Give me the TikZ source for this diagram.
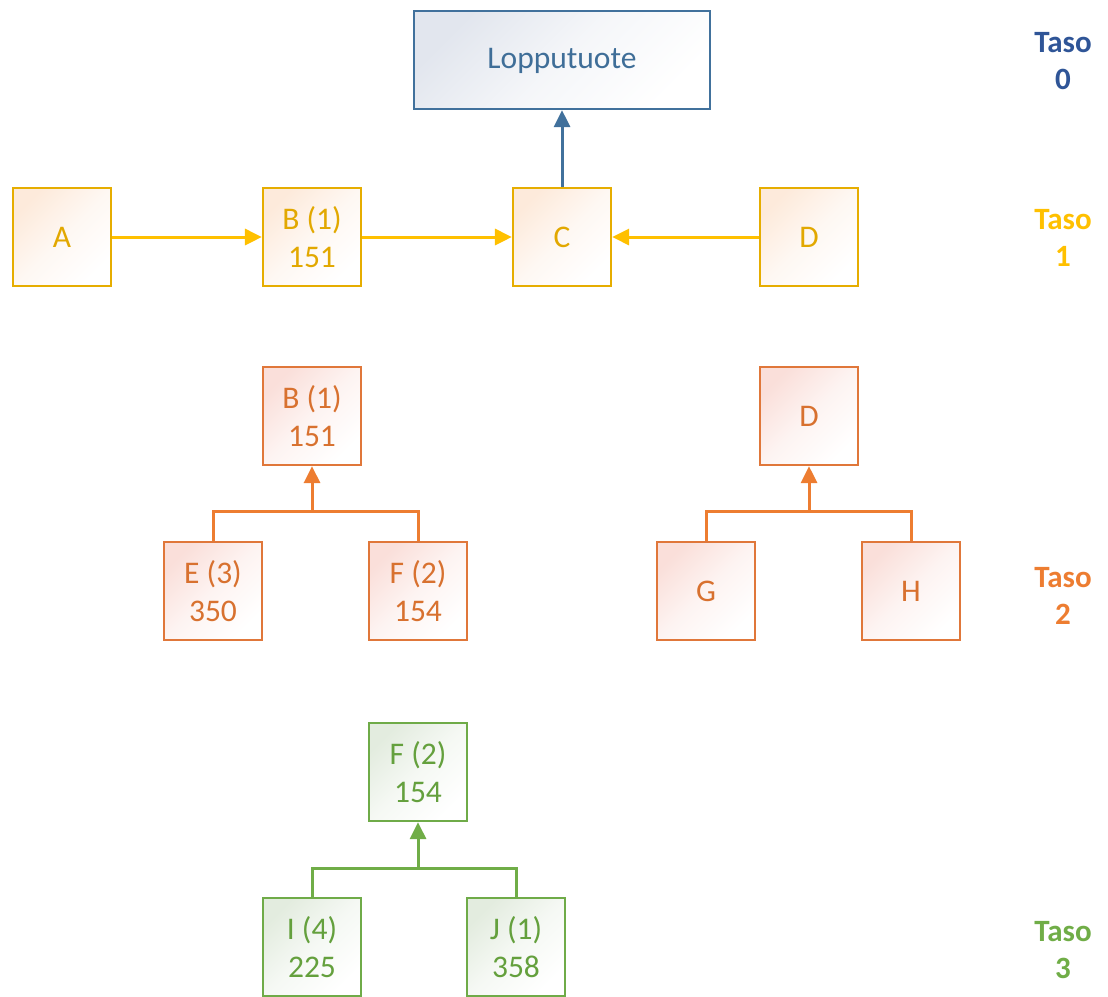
\documentclass[tikz,border=0pt]{standalone}
\usepackage{fontspec}
\setmainfont{Carlito}
\usetikzlibrary{arrows.meta}

\definecolor{bluLine}{HTML}{41719C}
\definecolor{bluText}{HTML}{3F6E98}
\definecolor{bluTint}{HTML}{E2E6EE}
\definecolor{bluHead}{HTML}{2F5597}
\definecolor{yelLine}{HTML}{FFC000}
\definecolor{yelBord}{HTML}{E6AD00}
\definecolor{yelText}{HTML}{E2A800}
\definecolor{yelTint}{HTML}{FDEADB}
\definecolor{orgLine}{HTML}{ED7D31}
\definecolor{orgBord}{HTML}{E0773A}
\definecolor{orgText}{HTML}{D8712F}
\definecolor{orgTint}{HTML}{FADFDA}
\definecolor{grnLine}{HTML}{70AD47}
\definecolor{grnBord}{HTML}{6FAB48}
\definecolor{grnText}{HTML}{64A03D}
\definecolor{grnTint}{HTML}{E3ECDF}

\tikzset{
  box/.style={draw, line width=2.2pt, inner sep=0pt, minimum width=98pt,
    minimum height=98pt, align=center,
    font=\fontsize{31.5}{38}\selectfont},
  shadebox/.style={top color=#1, bottom color=white, middle color=#1!35!white,
    shading angle=45},
  yelbox/.style={box, draw=yelBord, text=yelText, shadebox=yelTint},
  orgbox/.style={box, draw=orgBord, text=orgText, shadebox=orgTint},
  grnbox/.style={box, draw=grnBord, text=grnText, shadebox=grnTint},
  link/.style={line width=3pt, -{Triangle[length=17pt,width=16pt]}},
  tree/.style={line width=3pt},
  level/.style={align=center, font=\fontsize{31}{37}\selectfont\bfseries}
}

\begin{document}
\begin{tikzpicture}[x=1pt,y=-1pt]
\useasboundingbox (0,0) rectangle (1108,996);

% level 0: final product
\node[box, minimum width=296pt, draw=bluLine, text=bluText, shadebox=bluTint,
  text depth=4pt] (top) at (562,60) {Lopputuote};

% level 1
\node[yelbox] (A)  at (62,237)  {A};
\node[yelbox] (B1) at (312,237) {B (1)\\151};
\node[yelbox] (C)  at (562,237) {C};
\node[yelbox] (D1) at (809,237) {D};

\draw[link, draw=yelLine, color=yelLine] (A) -- (B1);
\draw[link, draw=yelLine, color=yelLine] (B1) -- (C);
\draw[link, draw=yelLine, color=yelLine] (D1) -- (C);
\draw[link, draw=bluLine, color=bluLine] (C) -- (top);

% level 2, left tree
\node[orgbox] (B2) at (312,416) {B (1)\\151};
\node[orgbox] (E)  at (213,591) {E (3)\\350};
\node[orgbox] (F2) at (418,591) {F (2)\\154};
\coordinate (jB) at (312,511);
\draw[tree, orgLine] (E.north) |- (jB) -| (F2.north);
\draw[link, color=orgLine] (jB) -- (B2.south);

% level 2, right tree
\node[orgbox] (D2) at (809,416) {D};
\node[orgbox] (G)  at (706,591) {G};
\node[orgbox] (H)  at (911,591) {H};
\coordinate (jD) at (809,511);
\draw[tree, orgLine] (G.north) |- (jD) -| (H.north);
\draw[link, color=orgLine] (jD) -- (D2.south);

% level 3
\node[grnbox] (F3) at (418,772) {F (2)\\154};
\node[grnbox] (I)  at (312,947) {I (4)\\225};
\node[grnbox] (J)  at (516,947) {J (1)\\358};
\coordinate (jF) at (418,868);
\draw[tree, grnLine] (I.north) |- (jF) -| (J.north);
\draw[link, color=grnLine] (jF) -- (F3.south);

% level labels
\node[level, text=bluHead] (t0) at (1063,61)  {Taso\\0};
\node[level, text=yelLine] (t1) at (1063,238) {Taso\\1};
\node[level, text=orgLine] (t2) at (1063,596) {Taso\\2};
\node[level, text=grnLine] (t3) at (1063,950) {Taso\\3};
\end{tikzpicture}
\end{document}
